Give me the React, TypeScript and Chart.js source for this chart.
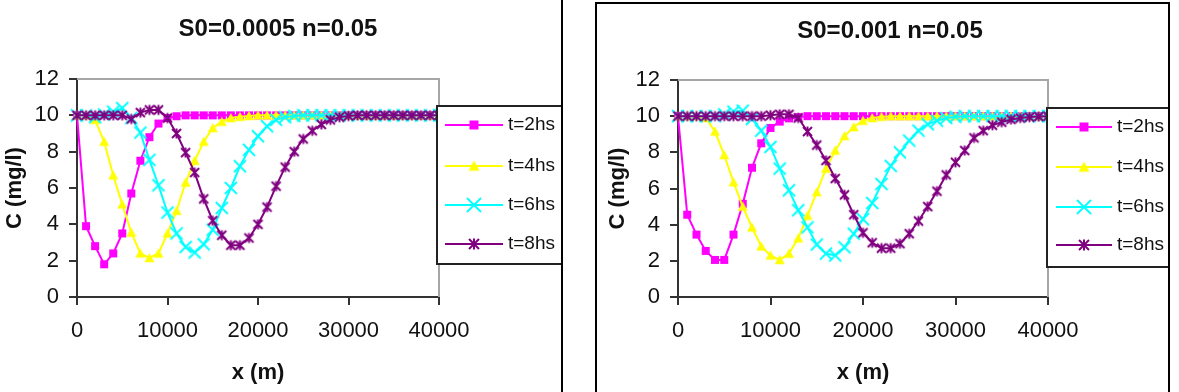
import React, { useEffect, useRef } from 'react';
import { Chart, registerables } from 'chart.js';

Chart.register(...registerables);

// Distance along the channel (m)
const distances = [
  0, 1000, 2000, 3000, 4000, 5000, 6000, 7000, 8000, 9000,
  10000, 11000, 12000, 13000, 14000, 15000, 16000, 17000, 18000, 19000,
  20000, 21000, 22000, 23000, 24000, 25000, 26000, 27000, 28000, 29000,
  30000, 31000, 32000, 33000, 34000, 35000, 36000, 37000, 38000, 39000, 40000,
];

const xTickValues = [0, 10000, 20000, 30000, 40000];
const yTickValues = [0, 2, 4, 6, 8, 10, 12];

const seriesNames = ['t=2hs', 't=4hs', 't=6hs', 't=8hs'];
const seriesColors = ['#FF00FF', '#FFFF00', '#00FFFF', '#800080'];

// Concentration C (mg/l), slope S0 = 0.0005
const slowT2 = [
  10, 3.9, 2.8, 1.8, 2.4, 3.5, 5.7, 7.5, 8.8, 9.55,
  9.85, 9.95, 10, 10, 10, 10, 10, 10, 10, 10,
  10, 10, 10, 10, 10, 10, 10, 10, 10, 10,
  10, 10, 10, 10, 10, 10, 10, 10, 10, 10, 10,
];
const slowT4 = [
  10, 10, 9.75, 8.55, 6.7, 5.1, 3.55, 2.4, 2.15, 2.4,
  3.5, 4.75, 6.3, 7.5, 8.55, 9.3, 9.65, 9.85, 9.92, 9.97,
  10, 10, 10, 10, 10, 10, 10, 10, 10, 10,
  10, 10, 10, 10, 10, 10, 10, 10, 10, 10, 10,
];
const slowT6 = [
  10, 10, 9.9, 10.05, 10.2, 10.4, 9.85, 9.05, 7.55, 6.15,
  4.65, 3.5, 2.75, 2.45, 2.9, 3.7, 4.9, 6.0, 7.2, 8.1,
  8.85, 9.4, 9.75, 9.9, 9.97, 10, 10, 10, 10, 10,
  10, 10, 10, 10, 10, 10, 10, 10, 10, 10, 10,
];
const slowT8 = [
  10, 10, 10, 10, 10, 10, 9.8, 10.15, 10.3, 10.3,
  9.85, 9.0, 7.95, 6.85, 5.4, 4.2, 3.4, 2.85, 2.85, 3.25,
  4.0, 4.95, 6.1, 7.15, 8.0, 8.7, 9.15, 9.5, 9.75, 9.9,
  9.97, 10, 10, 10, 10, 10, 10, 10, 10, 10, 10,
];

// Concentration C (mg/l), slope S0 = 0.001
const fastT2 = [
  10, 4.55, 3.45, 2.55, 2.05, 2.05, 3.45, 5.15, 7.15, 8.5,
  9.35, 9.7, 9.88, 9.95, 10, 10, 10, 10, 10, 10,
  10, 10, 10, 10, 10, 10, 10, 10, 10, 10,
  10, 10, 10, 10, 10, 10, 10, 10, 10, 10, 10,
];
const fastT4 = [
  10, 10, 10, 9.9, 9.15, 7.85, 6.35, 5.0, 3.85, 2.8,
  2.3, 2.05, 2.4, 3.25, 4.5, 5.8, 7.1, 8.1, 8.9, 9.4,
  9.75, 9.9, 9.97, 10, 10, 10, 10, 10, 10, 10,
  10, 10, 10, 10, 10, 10, 10, 10, 10, 10, 10,
];
const fastT6 = [
  10, 10, 10, 10, 10, 10.1, 10.25, 10.3, 9.85, 9.2,
  8.3, 7.1, 5.9, 4.8, 3.85, 2.9, 2.4, 2.3, 2.75, 3.5,
  4.3, 5.2, 6.25, 7.25, 8.0, 8.65, 9.2, 9.55, 9.75, 9.9,
  9.97, 10, 10, 10, 10, 10, 10, 10, 10, 10, 10,
];
const fastT8 = [
  10, 10, 10, 10, 10, 10, 10, 10, 10, 10,
  10.05, 10.1, 10.1, 9.9, 9.15, 8.4, 7.55, 6.55, 5.65, 4.55,
  3.55, 3.0, 2.7, 2.7, 2.95, 3.5, 4.2, 5.0, 5.85, 6.75,
  7.45, 8.1, 8.8, 9.2, 9.5, 9.67, 9.82, 9.9, 9.95, 9.98, 10,
];

const FAMILY = '"Liberation Sans", Arial, Helvetica, sans-serif';
const AXIS_COLOR = '#333333';
const FRAME_COLOR = '#a6a6a6';
const TEXT_COLOR = '#111111';
const Y_AXIS_W = 60;
const X_AXIS_H = 60;

type MarkerKind = 'square' | 'triangle' | 'cross' | 'asterisk';
const markerKinds: MarkerKind[] = ['square', 'triangle', 'cross', 'asterisk'];

function makeMarker(kind: MarkerKind, color: string, size: number): HTMLCanvasElement {
  const dim = Math.ceil(size) + 4;
  const c = document.createElement('canvas');
  c.width = dim;
  c.height = dim;
  const g = c.getContext('2d')!;
  const m = dim / 2;
  const r = size / 2;
  g.fillStyle = color;
  g.strokeStyle = color;
  g.lineWidth = kind === 'asterisk' ? 2 : 1.8;
  g.lineCap = 'butt';
  g.beginPath();
  if (kind === 'square') {
    g.fillRect(m - r, m - r, size, size);
  } else if (kind === 'triangle') {
    g.moveTo(m, m - r);
    g.lineTo(m + r, m + r * 0.85);
    g.lineTo(m - r, m + r * 0.85);
    g.closePath();
    g.fill();
  } else if (kind === 'cross') {
    g.moveTo(m - r, m - r);
    g.lineTo(m + r, m + r);
    g.moveTo(m + r, m - r);
    g.lineTo(m - r, m + r);
    g.stroke();
  } else {
    g.moveTo(m - r, m - r);
    g.lineTo(m + r, m + r);
    g.moveTo(m + r, m - r);
    g.lineTo(m - r, m + r);
    g.moveTo(m, m - r * 1.1);
    g.lineTo(m, m + r * 1.1);
    g.stroke();
  }
  return c;
}

const plotMarkerSizes = [8, 10, 12, 9];
const legendMarkerSizes = [9, 11, 14, 10];

type Box = { left: number; top: number; right: number; bottom: number };
type PanelGeometry = {
  left: number;
  top: number;
  width: number;
  height: number;
  area: Box;
  titleX: number;
  titleY: number;
  xTitleBaseline: number;
  yTitleX: number;
  legend: Box & { rows: number[]; lineFrom: number; lineTo: number; markerX: number; textX: number };
};

type PanelProps = { title: string; series: number[][]; geo: PanelGeometry };

function Panel({ title, series, geo }: PanelProps) {
  const ref = useRef<HTMLCanvasElement>(null);

  useEffect(() => {
    const canvas = ref.current;
    if (!canvas) return;
    const plotMarkers = series.map((_, i) => makeMarker(markerKinds[i], seriesColors[i], plotMarkerSizes[i]));
    const legendMarkers = series.map((_, i) => makeMarker(markerKinds[i], seriesColors[i], legendMarkerSizes[i]));
    const a = geo.area;

    const datasets = series.map((vals, i) => ({
      label: seriesNames[i],
      data: vals.map((v, k) => ({ x: distances[k], y: v })),
      borderColor: seriesColors[i],
      backgroundColor: seriesColors[i],
      borderWidth: 2,
      pointStyle: plotMarkers[i],
      pointRadius: 4,
      tension: 0,
      clip: false as const,
      order: series.length - i,
    }));

    const decorations = {
      id: 'decorations',
      beforeDatasetsDraw(chart: Chart) {
        const { ctx, chartArea } = chart;
        ctx.save();
        ctx.strokeStyle = FRAME_COLOR;
        ctx.lineWidth = 2;
        ctx.beginPath();
        ctx.moveTo(chartArea.left, chartArea.top);
        ctx.lineTo(chartArea.right, chartArea.top);
        ctx.lineTo(chartArea.right, chartArea.bottom);
        ctx.stroke();
        ctx.restore();
      },
      afterDraw(chart: Chart) {
        const { ctx, chartArea } = chart;
        ctx.save();
        ctx.fillStyle = TEXT_COLOR;

        ctx.font = `bold 24px ${FAMILY}`;
        ctx.textAlign = 'center';
        ctx.textBaseline = 'middle';
        ctx.fillText(title, geo.titleX, geo.titleY);

        ctx.font = `bold 22px ${FAMILY}`;
        ctx.textBaseline = 'alphabetic';
        ctx.fillText('x (m)', (chartArea.left + chartArea.right) / 2, geo.xTitleBaseline);

        ctx.save();
        ctx.translate(geo.yTitleX, (chartArea.top + chartArea.bottom) / 2);
        ctx.rotate(-Math.PI / 2);
        ctx.textBaseline = 'middle';
        ctx.fillText('C (mg/l)', 0, 0);
        ctx.restore();

        const L = geo.legend;
        ctx.fillStyle = '#ffffff';
        ctx.fillRect(L.left, L.top, L.right - L.left, L.bottom - L.top);
        ctx.strokeStyle = '#222222';
        ctx.lineWidth = 2;
        ctx.strokeRect(L.left, L.top, L.right - L.left, L.bottom - L.top);

        ctx.font = `19px ${FAMILY}`;
        ctx.textAlign = 'left';
        ctx.textBaseline = 'middle';
        series.forEach((_, i) => {
          const y = L.rows[i];
          ctx.strokeStyle = seriesColors[i];
          ctx.lineWidth = 2;
          ctx.beginPath();
          ctx.moveTo(L.lineFrom, y);
          ctx.lineTo(L.lineTo, y);
          ctx.stroke();
          const mk = legendMarkers[i];
          ctx.drawImage(mk, L.markerX - mk.width / 2, y - mk.height / 2);
          ctx.fillStyle = TEXT_COLOR;
          ctx.fillText(seriesNames[i], L.textX, y);
        });
        ctx.restore();
      },
    };

    const tickFont = { family: FAMILY, size: 22 };

    const chart = new Chart(canvas, {
      type: 'line',
      data: { datasets: datasets as any },
      options: {
        responsive: false,
        animation: false,
        devicePixelRatio: 1,
        events: [],
        layout: {
          padding: {
            left: a.left - Y_AXIS_W,
            top: a.top,
            right: geo.width - a.right,
            bottom: geo.height - a.bottom - X_AXIS_H,
          },
        },
        plugins: {
          legend: { display: false },
          title: { display: false },
          tooltip: { enabled: false },
        },
        scales: {
          x: {
            type: 'linear',
            min: 0,
            max: 40000,
            afterFit: (s: any) => { s.height = X_AXIS_H; },
            afterBuildTicks: (s: any) => { s.ticks = xTickValues.map((value) => ({ value })); },
            ticks: {
              callback: (v: any) => String(v),
              font: tickFont,
              color: TEXT_COLOR,
              padding: 13,
              maxRotation: 0,
              autoSkip: false,
            },
            grid: { drawOnChartArea: false, drawTicks: true, tickLength: 8, color: AXIS_COLOR, lineWidth: 2 },
            border: { color: AXIS_COLOR, width: 2 },
          },
          y: {
            type: 'linear',
            min: 0,
            max: 12,
            afterFit: (s: any) => { s.width = Y_AXIS_W; },
            afterBuildTicks: (s: any) => { s.ticks = yTickValues.map((value) => ({ value })); },
            ticks: {
              callback: (v: any) => String(v),
              font: tickFont,
              color: TEXT_COLOR,
              padding: 10,
              autoSkip: false,
            },
            grid: { drawOnChartArea: false, drawTicks: true, tickLength: 8, color: AXIS_COLOR, lineWidth: 2 },
            border: { color: AXIS_COLOR, width: 2 },
          },
        },
      },
      plugins: [decorations],
    });

    return () => chart.destroy();
  }, [title, series, geo]);

  return (
    <canvas
      ref={ref}
      width={geo.width}
      height={geo.height}
      style={{ position: 'absolute', left: geo.left, top: geo.top, width: geo.width, height: geo.height }}
    />
  );
}

const leftGeo: PanelGeometry = {
  left: 0,
  top: 0,
  width: 563,
  height: 392,
  area: { left: 77, top: 79, right: 439, bottom: 297 },
  titleX: 278,
  titleY: 29,
  xTitleBaseline: 379,
  yTitleX: 15,
  legend: { left: 437, top: 106, right: 566, bottom: 264, rows: [125, 166, 205, 244], lineFrom: 445, lineTo: 503, markerX: 474, textX: 508 },
};

const rightGeo: PanelGeometry = {
  left: 597,
  top: 4,
  width: 571,
  height: 388,
  area: { left: 81, top: 76, right: 451, bottom: 293 },
  titleX: 293,
  titleY: 27,
  xTitleBaseline: 375,
  yTitleX: 21,
  legend: { left: 450, top: 104, right: 575, bottom: 263, rows: [123, 163, 203, 241], lineFrom: 459, lineTo: 515, markerX: 487, textX: 520 },
};

const slowSeries = [slowT2, slowT4, slowT6, slowT8];
const fastSeries = [fastT2, fastT4, fastT6, fastT8];

export default function App() {
  return (
    <div
      style={{
        position: 'fixed',
        left: 0,
        top: 0,
        width: 1179,
        height: 392,
        overflow: 'hidden',
        background: '#ffffff',
      }}
    >
      <Panel title="S0=0.0005 n=0.05" series={slowSeries} geo={leftGeo} />
      <Panel title="S0=0.001 n=0.05" series={fastSeries} geo={rightGeo} />
      <div
        style={{
          position: 'absolute',
          left: -10,
          top: -10,
          width: 573,
          height: 420,
          border: '2px solid #000',
          boxSizing: 'border-box',
          pointerEvents: 'none',
        }}
      />
      <div
        style={{
          position: 'absolute',
          left: 595,
          top: 2,
          width: 575,
          height: 400,
          border: '2px solid #000',
          boxSizing: 'border-box',
          pointerEvents: 'none',
        }}
      />
    </div>
  );
}
